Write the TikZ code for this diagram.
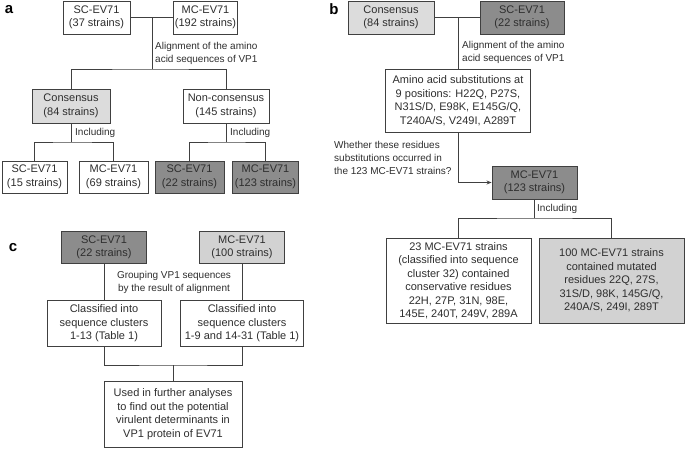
\documentclass[tikz,border=0pt]{standalone}
\usepackage{fontspec}
\setmainfont{Liberation Sans}
\usepackage{xcolor}
\usepackage{tikz}
\usetikzlibrary{arrows.meta}
\definecolor{darkfill}{HTML}{8C8C8C}
\definecolor{lightfill}{HTML}{D2D2D2}
\definecolor{dotfill}{HTML}{DCDCDC}
\definecolor{inkgray}{HTML}{2E2E2E}

\begin{document}
\begin{tikzpicture}[x=1pt,y=-1pt]
        % Define styles
        \tikzset{
            box/.style={rectangle, draw=black!75, line width=0.9pt, fill=white, align=center, inner sep=1pt, text=inkgray, font=\fontsize{11}{13.5}\selectfont},
            darkbox/.style={box, fill=darkfill},
            lightbox/.style={box, fill=lightfill},
            consbox/.style={box, fill=dotfill},
            note/.style={align=left, inner sep=0pt, text=inkgray, font=\fontsize{10}{13}\selectfont},
            panel/.style={inner sep=0pt, font=\fontsize{15}{15}\selectfont\bfseries},
            link/.style={draw=black!75, line width=0.9pt},
            arrow/.style={link, -{Stealth[length=5pt,width=4pt]}}
        }
        \useasboundingbox (0,0) rectangle (685,448);

        % Panel a
        \node[panel] (label_a) at (9,10) {a};
        \node[box, minimum width=67pt, minimum height=33pt] (sc_node_a1) at (96.5,17.5) {SC-EV71\\(37 strains)};
        \node[box, minimum width=63pt, minimum height=33pt] (mc_node_a1) at (205.5,17.5) {MC-EV71\\(192 strains)};
        \node[consbox, minimum width=78pt, minimum height=34pt] (cons_node_a) at (71,106) {Consensus\\(84 strains)};
        \node[box, minimum width=86pt, minimum height=34pt] (noncons_node_a) at (226,106) {Non-consensus\\(145 strains)};
        \node[box, minimum width=65pt, minimum height=32pt] (sc_node_a2) at (34.5,177) {SC-EV71\\(15 strains)};
        \node[box, minimum width=69pt, minimum height=32pt] (mc_node_a2) at (113.5,177) {MC-EV71\\(69 strains)};
        \node[darkbox, minimum width=69pt, minimum height=32pt] (sc_node_a3) at (189.5,177) {SC-EV71\\(22 strains)};
        \node[darkbox, minimum width=66pt, minimum height=32pt] (mc_node_a3) at (265.5,177) {MC-EV71\\(123 strains)};
        \node[note, anchor=west] (align_note_a) at (155,53) {Alignment of the amino\\acid sequences of VP1};
        \node[note, anchor=west] (incl_note_a1) at (75,133) {Including};
        \node[note, anchor=west] (incl_note_a2) at (230,133) {Including};
        \coordinate (join_a1) at (152,17.5);
        \coordinate (join_a2) at (152,69);
        \coordinate (join_a3) at (71,142);
        \coordinate (join_a4) at (226,142);

        % Lines a
        \draw[link] (sc_node_a1) -- (mc_node_a1);
        \draw[link] (join_a1) -- (join_a2);
        \draw[link] (cons_node_a.north) |- (join_a2) -| (noncons_node_a.north);
        \draw[link] (cons_node_a) -- (join_a3);
        \draw[link] (sc_node_a2.north) |- (join_a3) -| (mc_node_a2.north);
        \draw[link] (noncons_node_a) -- (join_a4);
        \draw[link] (sc_node_a3.north) |- (join_a4) -| (mc_node_a3.north);

        % Panel b
        \node[panel] (label_b) at (334,9) {b};
        \node[consbox, minimum width=86pt, minimum height=33pt] (cons_node_b) at (391,17.5) {Consensus\\(84 strains)};
        \node[darkbox, minimum width=84pt, minimum height=33pt] (sc_node_b) at (522,17.5) {SC-EV71\\(22 strains)};
        \node[box, minimum width=145pt, minimum height=63pt] (subst_node_b) at (458,100.5) {Amino acid substitutions at\\9 positions: H22Q, P27S,\\N31S/D, E98K, E145G/Q,\\T240A/S, V249I, A289T};
        \node[darkbox, minimum width=85pt, minimum height=33pt] (mc_node_b1) at (534.5,182.5) {MC-EV71\\(123 strains)};
        \node[box, minimum width=145pt, minimum height=85pt] (mc_node_b2) at (458.5,280.5) {23 MC-EV71 strains\\(classified into sequence\\cluster 32) contained\\conservative residues\\22H, 27P, 31N, 98E,\\145E, 240T, 249V, 289A};
        \node[lightbox, minimum width=145pt, minimum height=85pt] (mc_node_b3) at (611.5,280.5) {100 MC-EV71 strains\\contained mutated\\residues 22Q, 27S,\\31S/D, 98K, 145G/Q,\\240A/S, 249I, 289T};
        \node[note, anchor=west] (align_note_b) at (462,52) {Alignment of the amino\\acid sequences of VP1};
        \node[note, anchor=west] (ask_note_b) at (334,158) {Whether these residues\\substitutions occurred in\\the 123 MC-EV71 strains?};
        \node[note, anchor=west] (incl_note_b) at (537,209) {Including};
        \coordinate (join_b1) at (458,17.5);
        \coordinate (join_b2) at (534.5,218);

        % Lines b
        \draw[link] (cons_node_b) -- (sc_node_b);
        \draw[link] (join_b1) -- (subst_node_b.north);
        \draw[arrow] (subst_node_b.south) |- (mc_node_b1.west);
        \draw[link] (mc_node_b1) -- (join_b2);
        \draw[link] (mc_node_b2.north) |- (join_b2) -| (mc_node_b3.north);

        % Panel c
        \node[panel] (label_c) at (13,248) {c};
        \node[darkbox, minimum width=85pt, minimum height=32pt] (sc_node_c) at (104,247.5) {SC-EV71\\(22 strains)};
        \node[lightbox, minimum width=85pt, minimum height=32pt] (mc_node_c) at (242,247.5) {MC-EV71\\(100 strains)};
        \node[box, minimum width=114pt, minimum height=46pt] (clus_node_c1) at (104,323.5) {Classified into\\sequence clusters\\1-13 (Table 1)};
        \node[box, minimum width=123pt, minimum height=46pt] (clus_node_c2) at (242,323.5) {Classified into\\sequence clusters\\1-9 and 14-31 (Table 1)};
        \node[box, minimum width=138pt, minimum height=66pt] (use_node_c) at (173,414) {Used in further analyses\\to find out the potential\\virulent determinants in\\VP1 protein of EV71};
        \node[note, align=center, fill=white, inner sep=1pt] (group_note_c) at (174,282) {Grouping VP1 sequences\\by the result of alignment};
        \coordinate (join_c) at (173,365);

        % Lines c
        \draw[link] (sc_node_c) -- (clus_node_c1);
        \draw[link] (mc_node_c) -- (clus_node_c2);
        \draw[link] (clus_node_c1.south) |- (join_c) -| (clus_node_c2.south);
        \draw[link] (join_c) -- (use_node_c);
\end{tikzpicture}
\end{document}
